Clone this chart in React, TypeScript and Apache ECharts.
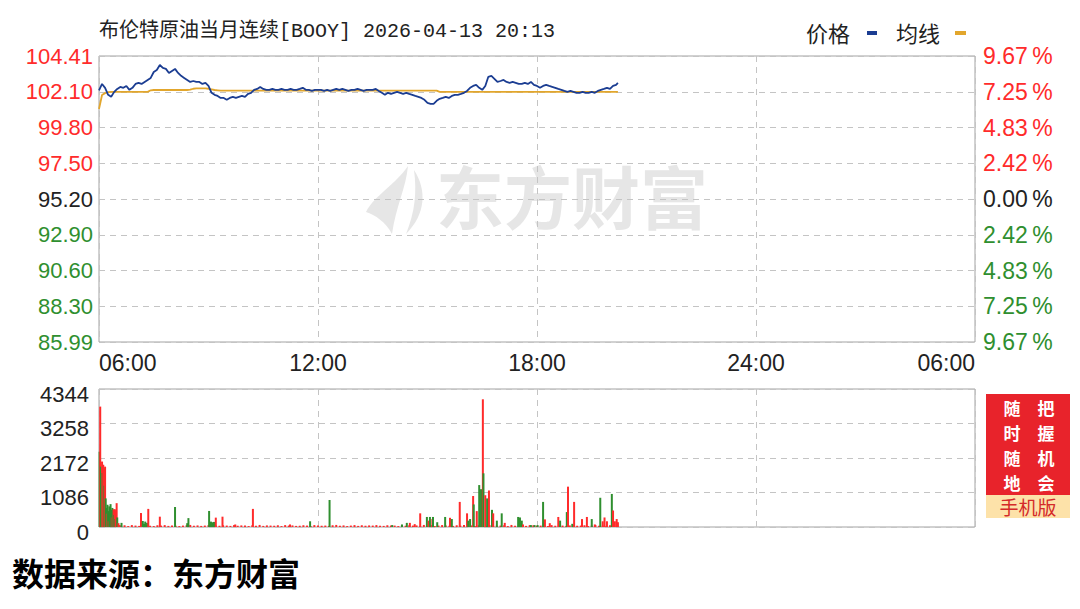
import React, { useEffect, useRef } from 'react';
import * as echarts from 'echarts';

const TITLE = '布伦特原油当月连续[BOOY] 2026-04-13 20:13';
const LEGEND_PRICE = '价格';
const LEGEND_AVG = '均线';
const SOURCE = '数据来源：东方财富';
const WATERMARK = '东方财富';
const PROMO_LEFT = ['随', '时', '随', '地'];
const PROMO_RIGHT = ['把', '握', '机', '会'];
const PROMO_BOTTOM = '手机版';

const X_TICKS = ['06:00', '12:00', '18:00', '24:00', '06:00'];
const PRICE_TICKS = ['85.99', '88.30', '90.60', '92.90', '95.20', '97.50', '99.80', '102.10', '104.41'];
const PCT_TICKS = ['9.67', '7.25', '4.83', '2.42', '0.00', '2.42', '4.83', '7.25', '9.67'];
const PRICE_MIN = 85.99;
const PRICE_MAX = 104.41;
const VOL_MAX = 4344;
const VOL_STEP = 1086;
const DAY_MINUTES = 1440;
const SAMPLE_MINUTES = 5;
const LAST_MINUTE = 853;

// price every 5 minutes from 06:00, last value at 20:13
const PRICE = [
  102.20, 102.61, 102.36, 101.91, 101.78, 102.10, 102.29, 102.42, 102.36, 102.48,
  102.23, 102.36, 102.61, 102.68, 102.61, 102.74, 102.87, 103.00, 103.38, 103.51,
  103.83, 103.64, 103.58, 103.32, 103.45, 103.58, 103.32, 103.13, 103.00, 102.87,
  102.74, 102.80, 102.74, 102.74, 102.61, 102.68, 102.48, 102.04, 101.91, 101.84,
  101.71, 101.71, 101.59, 101.71, 101.78, 101.71, 101.78, 101.84, 101.78, 101.97,
  102.04, 102.23, 102.29, 102.42, 102.29, 102.23, 102.23, 102.29, 102.23, 102.23,
  102.29, 102.23, 102.23, 102.29, 102.23, 102.23, 102.29, 102.36, 102.23, 102.23,
  102.16, 102.23, 102.23, 102.23, 102.16, 102.23, 102.16, 102.23, 102.29, 102.23,
  102.29, 102.23, 102.16, 102.23, 102.23, 102.29, 102.23, 102.16, 102.23, 102.23,
  102.23, 102.29, 102.16, 102.04, 101.91, 102.04, 101.97, 102.04, 102.10, 102.04,
  101.97, 102.04, 101.97, 101.91, 101.84, 101.78, 101.71, 101.59, 101.39, 101.33,
  101.33, 101.52, 101.65, 101.71, 101.78, 101.71, 101.84, 101.91, 101.91, 101.97,
  102.04, 102.16, 102.36, 102.48, 102.55, 102.36, 102.23, 102.48, 103.07, 103.13,
  102.94, 102.74, 102.80, 102.87, 102.74, 102.68, 102.74, 102.68, 102.61, 102.61,
  102.68, 102.61, 102.74, 102.55, 102.48, 102.36, 102.48, 102.55, 102.48, 102.42,
  102.36, 102.29, 102.23, 102.16, 102.10, 102.16, 102.10, 102.04, 102.04, 102.10,
  102.04, 102.04, 102.10, 102.04, 102.16, 102.23, 102.29, 102.36, 102.29, 102.48,
  102.55, 102.68,
];

const AVG = [
  101.00, 101.90, 102.02, 102.08, 102.10, 102.10, 102.10, 102.10, 102.10, 102.10,
  102.10, 102.10, 102.10, 102.10, 102.10, 102.10, 102.10, 102.20, 102.22, 102.22,
  102.22, 102.22, 102.22, 102.22, 102.22, 102.22, 102.22, 102.22, 102.22, 102.22,
  102.24, 102.30, 102.32, 102.32, 102.32, 102.32, 102.30, 102.26, 102.22, 102.20,
  102.18, 102.18, 102.18, 102.18, 102.18, 102.18, 102.18, 102.18, 102.18, 102.18,
  102.18, 102.18, 102.18, 102.18, 102.18, 102.18, 102.18, 102.18, 102.18, 102.18,
  102.18, 102.18, 102.18, 102.18, 102.18, 102.18, 102.18, 102.18, 102.18, 102.18,
  102.18, 102.18, 102.18, 102.18, 102.18, 102.18, 102.18, 102.18, 102.18, 102.18,
  102.18, 102.18, 102.18, 102.18, 102.18, 102.18, 102.18, 102.18, 102.18, 102.18,
  102.18, 102.18, 102.18, 102.18, 102.18, 102.18, 102.18, 102.18, 102.18, 102.18,
  102.18, 102.18, 102.18, 102.18, 102.18, 102.18, 102.18, 102.18, 102.18, 102.18,
  102.18, 102.18, 102.10, 102.10, 102.10, 102.10, 102.10, 102.10, 102.10, 102.10,
  102.10, 102.10, 102.10, 102.10, 102.10, 102.10, 102.10, 102.10, 102.10, 102.10,
  102.10, 102.10, 102.10, 102.10, 102.10, 102.10, 102.10, 102.10, 102.10, 102.10,
  102.10, 102.10, 102.10, 102.10, 102.10, 102.10, 102.10, 102.10, 102.10, 102.10,
  102.10, 102.10, 102.10, 102.10, 102.10, 102.10, 102.10, 102.10, 102.10, 102.10,
  102.10, 102.10, 102.10, 102.10, 102.10, 102.10, 102.10, 102.10, 102.10, 102.10,
  102.10, 102.10,
];

// notable volume bars: minute after 06:00, volume, 1 = up (red) / 0 = down (green)
const VOL_MINUTE = [
  1, 2, 3, 5, 6, 7, 8, 9, 10, 11, 12, 13, 14, 15, 16, 17, 18, 19, 20, 21, 22, 23, 24, 25, 26, 27, 28, 29, 30, 32, 34,
  37, 69, 72, 74, 76, 79, 81, 100, 125, 145, 147, 181, 184, 186, 189, 192, 203, 224, 253, 314, 347, 379,
  482, 498, 506, 511, 519, 528, 539, 542, 544, 548, 549, 556, 569, 577, 580, 593, 605, 607, 610, 615, 616,
  621, 625, 628, 631, 632, 635, 638, 641, 646, 648, 654, 662, 667, 689, 692, 695, 697, 710, 716, 721,
  730, 733, 741, 755, 758, 769, 771, 778, 781, 794, 802, 810, 815, 824, 828, 831, 835, 843, 845, 848, 851, 853,
];
const VOL_VALUE = [
  2370, 3790, 1900, 2060, 1700, 1960, 1850, 1300, 1900, 900, 600, 420, 700, 500, 180, 650, 400, 720, 540, 300, 600, 420, 560, 380, 560, 250, 530, 750, 300, 120, 60,
  130, 440, 190, 100, 170, 130, 570, 325, 630, 120, 280, 505, 170, 150, 160, 295, 325, 80, 570, 80, 180, 850,
  60, 80, 130, 130, 90, 430, 316, 200, 316, 250, 316, 150, 316, 290, 250, 790, 430, 200, 250, 975, 710,
  500, 1320, 1190, 4020, 1690, 1000, 900, 1150, 540, 430, 200, 430, 130, 316, 300, 200, 80, 60, 60, 60,
  790, 240, 120, 316, 200, 470, 1270, 100, 790, 250, 316, 250, 80, 920, 180, 300, 180, 1040, 520, 180, 250, 150,
];
const VOL_UP = [
  0, 1, 0, 1, 0, 1, 1, 0, 1, 0, 0, 1, 0, 0, 1, 0, 0, 0, 0, 1, 0, 0, 1, 0, 1, 0, 1, 1, 0, 1, 1,
  0, 1, 0, 0, 0, 0, 1, 1, 0, 0, 0, 0, 0, 0, 0, 1, 1, 1, 1, 1, 0, 0,
  0, 0, 0, 1, 1, 1, 0, 1, 0, 1, 0, 0, 0, 1, 0, 1, 1, 0, 0, 1, 0,
  1, 0, 0, 1, 0, 1, 0, 1, 0, 1, 0, 0, 1, 0, 0, 0, 1, 0, 0, 0,
  0, 1, 1, 1, 0, 0, 1, 0, 1, 1, 1, 0, 1, 0, 1, 1, 1, 0, 1, 1, 1, 1,
];

// small baseline volumes, every 6 minutes from 06:36
const SMALL_START = 36;
const SMALL_STEP = 6;
const SMALL_VOL = [
  40, 55, 30, 60, 45, 35, 50, 65, 40, 30, 55, 45, 60, 35, 50, 40, 30, 45, 55, 65,
  40, 50, 35, 45, 60, 30, 50, 40, 55, 45, 35, 60, 40, 50, 45, 30, 55, 40, 65, 35,
  50, 45, 40, 55, 30, 60, 45, 50, 35, 40, 55, 45, 30, 60, 50, 40, 45, 35, 55, 65,
  40, 50, 30, 45, 60, 35, 55, 40, 50, 45, 60, 40, 35, 55, 50, 45, 30, 60, 40, 55,
  45, 50, 35, 65, 40, 55, 30, 45, 60, 50, 40, 35, 55, 45, 60, 40, 50, 30, 55, 45,
  35, 60, 40, 50, 45, 55, 30, 65, 40, 50, 45, 35, 60, 55, 40, 45, 50, 30, 60, 40,
  55, 45, 35, 50, 60, 40, 45, 55, 30, 50, 65, 40, 45, 35, 55, 50, 60,
];

const RED = '#ff2b2b';
const GREEN = '#2f8f2f';
const DARK = '#222222';
const BLUE_LINE = '#1b3d92';
const AVG_LINE = '#e2a62c';
const GRID_LINE = '#c4c4c4';
const FRAME = '#a3a3a3';

const LOGO_D =
  'M0 46 C8 30 30 18 42 0 C40 22 30 40 26 68 C20 56 9 49 0 46 Z M48 4 C61 24 60 48 40 68 C49 46 51 26 48 4 Z';

let registered = false;

export default function App() {
  const ref = useRef<HTMLDivElement>(null);

  useEffect(() => {
    if (!ref.current) return;
    if (!registered) {
      echarts.graphic.registerShape('emlogo', echarts.graphic.extendPath(LOGO_D, {}));
      registered = true;
    }
    const chart = echarts.init(ref.current, undefined, { renderer: 'svg' });

    const priceData = PRICE.map((p, i) => [i < PRICE.length - 1 ? i * SAMPLE_MINUTES : LAST_MINUTE, p]);
    const avgData = AVG.map((p, i) => [i < AVG.length - 1 ? i * SAMPLE_MINUTES : LAST_MINUTE, p]);
    const volData: any[] = [];
    SMALL_VOL.forEach((v, i) => {
      const m = SMALL_START + i * SMALL_STEP;
      if (m <= LAST_MINUTE) volData.push({ value: [m, v], itemStyle: { color: RED } });
    });
    VOL_MINUTE.forEach((m, i) => {
      volData.push({ value: [m, VOL_VALUE[i]], itemStyle: { color: VOL_UP[i] ? RED : GREEN } });
    });

    const tickColor = (idx: number) => (idx > 4 ? RED : idx < 4 ? GREEN : DARK);
    const dashed = { show: true, lineStyle: { color: GRID_LINE, type: [6, 5], width: 1 } };
    const labelFont = "'Liberation Sans', Arial, sans-serif";
    const cjk = "'Noto Sans CJK SC'";

    const promo: any[] = [];
    const promoStyle = { fontSize: 17, lineHeight: 20, fontWeight: 'bold', fill: '#ffffff', align: 'center', verticalAlign: 'middle', fontFamily: cjk };
    PROMO_LEFT.forEach((ch, i) => {
      promo.push({ type: 'text', x: 1012, y: 407 + i * 25, silent: true, style: { ...promoStyle, text: ch } });
    });
    PROMO_RIGHT.forEach((ch, i) => {
      promo.push({ type: 'text', x: 1046, y: 407 + i * 25, silent: true, style: { ...promoStyle, text: ch } });
    });

    const option: any = {
      animation: false,
      backgroundColor: '#ffffff',
      grid: [
        { left: 99, top: 56, width: 876, height: 286, show: true, borderColor: FRAME, borderWidth: 1, backgroundColor: 'transparent' },
        { left: 99, top: 389, width: 876, height: 138, show: true, borderColor: FRAME, borderWidth: 1, backgroundColor: 'transparent' },
      ],
      xAxis: [
        {
          type: 'value', gridIndex: 0, min: 0, max: DAY_MINUTES, interval: 360,
          axisLine: { show: false }, axisTick: { show: false }, splitLine: dashed,
          axisLabel: {
            formatter: (v: number) => X_TICKS[Math.round(v / 360)],
            alignMinLabel: 'left', alignMaxLabel: 'right',
            margin: 9, fontSize: 23, color: DARK, fontFamily: labelFont,
          },
        },
        {
          type: 'value', gridIndex: 1, min: 0, max: DAY_MINUTES, interval: 360,
          axisLine: { show: false }, axisTick: { show: false }, splitLine: dashed,
          axisLabel: { show: false },
        },
      ],
      yAxis: [
        { type: 'value', gridIndex: 0, min: PRICE_MIN, max: PRICE_MAX, show: false, splitLine: { show: false } },
        {
          type: 'value', gridIndex: 0, min: -4, max: 4, interval: 1, position: 'left',
          axisLine: { show: false }, axisTick: { show: false }, splitLine: dashed,
          axisLabel: {
            formatter: (v: number) => PRICE_TICKS[Math.round(v) + 4],
            color: (v: any) => tickColor(Math.round(Number(v)) + 4),
            fontSize: 22, fontFamily: labelFont, margin: 6,
          },
        },
        {
          type: 'value', gridIndex: 0, min: -4, max: 4, interval: 1, position: 'right',
          axisLine: { show: false }, axisTick: { show: false }, splitLine: { show: false },
          axisLabel: {
            formatter: (v: number) => PCT_TICKS[Math.round(v) + 4] + '\u2009%',
            color: (v: any) => tickColor(Math.round(Number(v)) + 4),
            fontSize: 23, fontFamily: labelFont, margin: 8,
          },
        },
        {
          type: 'value', gridIndex: 1, min: 0, max: VOL_MAX, interval: VOL_STEP,
          axisLine: { show: false }, axisTick: { show: false }, splitLine: dashed,
          axisLabel: {
            formatter: (v: number) => String(Math.round(v)), color: DARK, fontSize: 22,
            fontFamily: labelFont, margin: 10, verticalAlign: 'top', lineHeight: 10,
          },
        },
      ],
      series: [
        {
          type: 'line', xAxisIndex: 0, yAxisIndex: 0, data: avgData, showSymbol: false,
          lineStyle: { color: AVG_LINE, width: 1.8 }, z: 3,
        },
        {
          type: 'line', xAxisIndex: 0, yAxisIndex: 0, data: priceData, showSymbol: false,
          lineStyle: { color: BLUE_LINE, width: 1.8 }, z: 4,
        },
        {
          type: 'bar', xAxisIndex: 1, yAxisIndex: 3, data: volData, barWidth: 2, z: 3,
        },
      ],
      graphic: [
        {
          type: 'emlogo', x: 366, y: 166, scaleX: 1, scaleY: 1, z: -10, silent: true,
          style: { fill: '#e6e6e6' },
        },
        {
          type: 'text', left: 436, top: 160, z: -10, silent: true,
          style: { text: WATERMARK, fontSize: 68, fontWeight: 'bold', fill: '#e6e6e6', fontFamily: cjk },
        },
        {
          type: 'text', left: 99, top: 21, silent: true,
          style: { text: TITLE, fontSize: 20, fill: DARK, fontFamily: "'Liberation Mono', 'Noto Sans CJK SC', monospace" },
        },
        {
          type: 'text', left: 806, top: 21, silent: true,
          style: { text: LEGEND_PRICE, fontSize: 22, fill: DARK, fontFamily: cjk },
        },
        { type: 'rect', shape: { x: 867, y: 31, width: 10, height: 4 }, style: { fill: BLUE_LINE }, silent: true },
        {
          type: 'text', left: 896, top: 21, silent: true,
          style: { text: LEGEND_AVG, fontSize: 22, fill: DARK, fontFamily: cjk },
        },
        { type: 'rect', shape: { x: 955, y: 31, width: 11, height: 4 }, style: { fill: AVG_LINE }, silent: true },
        { type: 'rect', shape: { x: 986, y: 394, width: 84, height: 101 }, style: { fill: '#e8232b' }, silent: true },
        ...promo,
        { type: 'rect', shape: { x: 986, y: 495, width: 84, height: 23 }, style: { fill: '#fde2a9' }, silent: true },
        {
          type: 'text', x: 1028, y: 506, silent: true,
          style: { text: PROMO_BOTTOM, fontSize: 19, fill: '#d42a2a', align: 'center', verticalAlign: 'middle', fontFamily: cjk },
        },
        {
          type: 'text', left: 12, top: 556, silent: true,
          style: { text: SOURCE, fontSize: 32, fontWeight: 'bold', fill: '#000000', fontFamily: cjk },
        },
      ],
    };

    chart.setOption(option);
    return () => chart.dispose();
  }, []);

  return (
    <div
      ref={ref}
      style={{ position: 'absolute', left: 0, top: 0, width: 1080, height: 609, background: '#fff' }}
    />
  );
}
